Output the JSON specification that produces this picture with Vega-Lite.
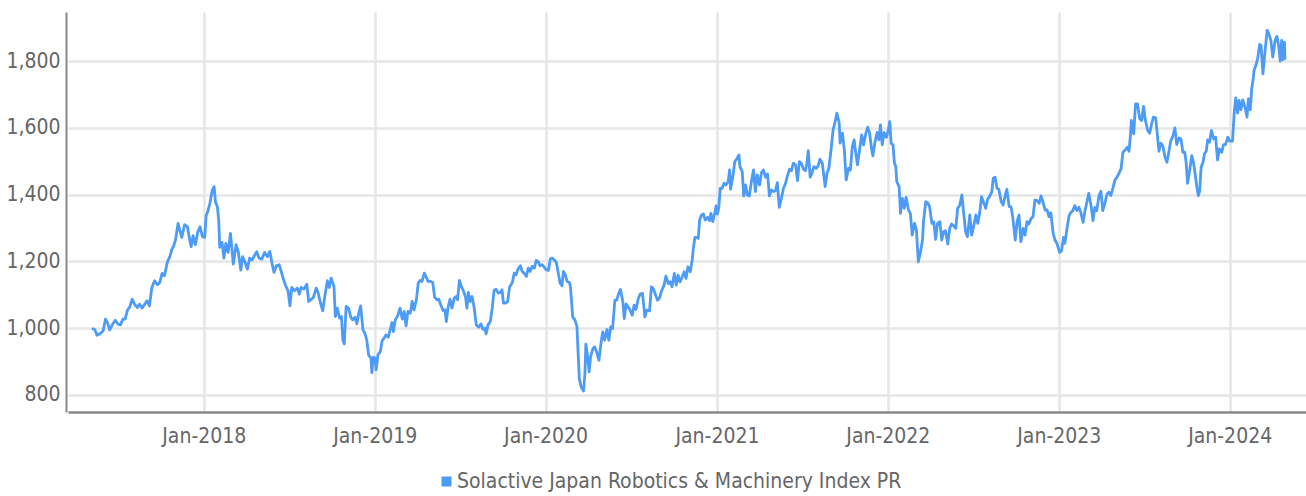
{
"$schema": "https://vega.github.io/schema/vega-lite/v6.json",
"width": 1238, "height": 400,
"autosize": {"type": "none"},
"padding": {"left": 68, "top": 12, "right": 0, "bottom": 84},
"background": "white",
"config": {"view": {"stroke": null}, "font": "DejaVu Sans Condensed"},
"data": {"values": [
{"d":"2017-05-07","v":999},{"d":"2017-05-13","v":996},{"d":"2017-05-18","v":979},{"d":"2017-05-26","v":985},{"d":"2017-05-31","v":992},{"d":"2017-06-05","v":1027},{"d":"2017-06-10","v":1014},{"d":"2017-06-14","v":995},{"d":"2017-06-21","v":1014},{"d":"2017-06-26","v":1024},{"d":"2017-07-02","v":1012},{"d":"2017-07-07","v":1010},{"d":"2017-07-12","v":1027},{"d":"2017-07-17","v":1027},{"d":"2017-07-22","v":1054},{"d":"2017-07-27","v":1064},{"d":"2017-08-01","v":1087},{"d":"2017-08-06","v":1072},{"d":"2017-08-12","v":1062},{"d":"2017-08-17","v":1072},{"d":"2017-08-22","v":1060},{"d":"2017-08-28","v":1072},{"d":"2017-09-02","v":1082},{"d":"2017-09-07","v":1067},{"d":"2017-09-12","v":1122},{"d":"2017-09-18","v":1142},{"d":"2017-09-24","v":1130},{"d":"2017-09-29","v":1137},{"d":"2017-10-04","v":1164},{"d":"2017-10-09","v":1157},{"d":"2017-10-15","v":1197},{"d":"2017-10-21","v":1217},{"d":"2017-10-25","v":1237},{"d":"2017-10-29","v":1247},{"d":"2017-11-02","v":1267},{"d":"2017-11-07","v":1314},{"d":"2017-11-11","v":1292},{"d":"2017-11-15","v":1272},{"d":"2017-11-21","v":1310},{"d":"2017-11-27","v":1304},{"d":"2017-12-01","v":1272},{"d":"2017-12-05","v":1244},{"d":"2017-12-09","v":1277},{"d":"2017-12-14","v":1250},{"d":"2017-12-19","v":1287},{"d":"2017-12-24","v":1304},{"d":"2017-12-29","v":1274},
{"d":"2018-01-03","v":1272},{"d":"2018-01-06","v":1337},{"d":"2018-01-10","v":1352},{"d":"2018-01-14","v":1374},{"d":"2018-01-19","v":1412},{"d":"2018-01-23","v":1424},{"d":"2018-01-26","v":1377},{"d":"2018-01-30","v":1364},{"d":"2018-02-02","v":1322},{"d":"2018-02-04","v":1242},{"d":"2018-02-09","v":1257},{"d":"2018-02-13","v":1210},{"d":"2018-02-17","v":1254},{"d":"2018-02-22","v":1227},{"d":"2018-02-27","v":1284},{"d":"2018-03-05","v":1192},{"d":"2018-03-11","v":1250},{"d":"2018-03-16","v":1227},{"d":"2018-03-21","v":1174},{"d":"2018-03-25","v":1214},{"d":"2018-03-29","v":1202},{"d":"2018-04-04","v":1177},{"d":"2018-04-09","v":1210},{"d":"2018-04-14","v":1204},{"d":"2018-04-19","v":1217},{"d":"2018-04-24","v":1229},{"d":"2018-04-29","v":1210},{"d":"2018-05-05","v":1207},{"d":"2018-05-11","v":1227},{"d":"2018-05-17","v":1214},{"d":"2018-05-22","v":1230},{"d":"2018-05-27","v":1192},{"d":"2018-05-31","v":1167},{"d":"2018-06-05","v":1187},{"d":"2018-06-11","v":1190},{"d":"2018-06-15","v":1172},{"d":"2018-06-20","v":1147},{"d":"2018-06-25","v":1127},{"d":"2018-06-30","v":1112},{"d":"2018-07-04","v":1067},{"d":"2018-07-08","v":1122},{"d":"2018-07-14","v":1112},{"d":"2018-07-20","v":1120},{"d":"2018-07-24","v":1102},{"d":"2018-07-28","v":1122},{"d":"2018-08-03","v":1117},{"d":"2018-08-09","v":1132},{"d":"2018-08-13","v":1080},{"d":"2018-08-19","v":1087},{"d":"2018-08-23","v":1092},{"d":"2018-08-29","v":1120},{"d":"2018-09-02","v":1107},{"d":"2018-09-07","v":1077},{"d":"2018-09-12","v":1052},{"d":"2018-09-17","v":1100},{"d":"2018-09-22","v":1142},{"d":"2018-09-26","v":1122},{"d":"2018-09-30","v":1150},
{"d":"2018-10-06","v":1125},{"d":"2018-10-09","v":1035},{"d":"2018-10-13","v":1060},{"d":"2018-10-18","v":1030},{"d":"2018-10-22","v":1035},{"d":"2018-10-25","v":965},{"d":"2018-10-28","v":953},{"d":"2018-11-01","v":1065},{"d":"2018-11-06","v":1060},{"d":"2018-11-11","v":1033},{"d":"2018-11-15","v":1025},{"d":"2018-11-20","v":1033},{"d":"2018-11-24","v":1013},{"d":"2018-11-28","v":1045},{"d":"2018-12-02","v":1067},{"d":"2018-12-07","v":995},{"d":"2018-12-11","v":985},{"d":"2018-12-15","v":965},{"d":"2018-12-19","v":920},{"d":"2018-12-24","v":910},{"d":"2018-12-26","v":867},{"d":"2018-12-29","v":913},
{"d":"2019-01-02","v":910},{"d":"2019-01-04","v":875},{"d":"2019-01-08","v":920},{"d":"2019-01-13","v":930},{"d":"2019-01-17","v":963},{"d":"2019-01-21","v":970},{"d":"2019-01-25","v":980},{"d":"2019-01-30","v":973},{"d":"2019-02-03","v":995},{"d":"2019-02-07","v":1017},{"d":"2019-02-10","v":990},{"d":"2019-02-14","v":1025},{"d":"2019-02-19","v":1037},{"d":"2019-02-24","v":1060},{"d":"2019-03-01","v":1027},{"d":"2019-03-05","v":1050},{"d":"2019-03-09","v":1007},{"d":"2019-03-13","v":1050},{"d":"2019-03-18","v":1045},{"d":"2019-03-22","v":1080},{"d":"2019-03-26","v":1055},{"d":"2019-03-31","v":1085},{"d":"2019-04-04","v":1135},{"d":"2019-04-08","v":1143},{"d":"2019-04-12","v":1140},{"d":"2019-04-17","v":1165},{"d":"2019-04-21","v":1153},{"d":"2019-04-25","v":1140},{"d":"2019-05-01","v":1140},{"d":"2019-05-05","v":1137},{"d":"2019-05-09","v":1093},{"d":"2019-05-14","v":1085},{"d":"2019-05-18","v":1087},{"d":"2019-05-22","v":1070},{"d":"2019-05-27","v":1053},{"d":"2019-05-31","v":1055},{"d":"2019-06-03","v":1020},{"d":"2019-06-07","v":1065},{"d":"2019-06-11","v":1087},{"d":"2019-06-15","v":1060},{"d":"2019-06-20","v":1090},{"d":"2019-06-24","v":1095},{"d":"2019-06-27","v":1085},{"d":"2019-07-01","v":1143},{"d":"2019-07-05","v":1125},{"d":"2019-07-10","v":1110},{"d":"2019-07-14","v":1093},{"d":"2019-07-17","v":1060},{"d":"2019-07-20","v":1107},{"d":"2019-07-24","v":1080},{"d":"2019-07-28","v":1095},{"d":"2019-08-01","v":1065},{"d":"2019-08-06","v":1010},{"d":"2019-08-11","v":1003},{"d":"2019-08-16","v":1013},{"d":"2019-08-20","v":997},{"d":"2019-08-24","v":1000},{"d":"2019-08-27","v":983},{"d":"2019-08-31","v":1010},{"d":"2019-09-05","v":1020},{"d":"2019-09-09","v":1060},{"d":"2019-09-13","v":1113},{"d":"2019-09-17","v":1117},{"d":"2019-09-22","v":1105},{"d":"2019-09-26","v":1107},{"d":"2019-09-30","v":1115},{"d":"2019-10-03","v":1075},{"d":"2019-10-07","v":1075},{"d":"2019-10-12","v":1080},{"d":"2019-10-16","v":1123},{"d":"2019-10-22","v":1137},{"d":"2019-10-26","v":1165},{"d":"2019-10-30","v":1160},{"d":"2019-11-03","v":1177},{"d":"2019-11-08","v":1187},{"d":"2019-11-12","v":1170},{"d":"2019-11-16","v":1165},{"d":"2019-11-21","v":1155},{"d":"2019-11-25","v":1180},{"d":"2019-11-29","v":1170},{"d":"2019-12-03","v":1185},{"d":"2019-12-08","v":1180},{"d":"2019-12-12","v":1203},{"d":"2019-12-16","v":1200},{"d":"2019-12-20","v":1187},{"d":"2019-12-25","v":1190},{"d":"2019-12-29","v":1183},
{"d":"2020-01-02","v":1175},{"d":"2020-01-07","v":1173},{"d":"2020-01-11","v":1207},{"d":"2020-01-15","v":1210},{"d":"2020-01-19","v":1205},{"d":"2020-01-24","v":1197},{"d":"2020-01-28","v":1165},{"d":"2020-02-01","v":1135},{"d":"2020-02-05","v":1127},{"d":"2020-02-08","v":1170},{"d":"2020-02-12","v":1160},{"d":"2020-02-16","v":1140},{"d":"2020-02-21","v":1137},{"d":"2020-02-23","v":1125},{"d":"2020-02-28","v":1033},{"d":"2020-03-03","v":1027},{"d":"2020-03-08","v":1005},{"d":"2020-03-10","v":940},
{"d":"2020-03-13","v":849},{"d":"2020-03-17","v":824},{"d":"2020-03-22","v":812},{"d":"2020-03-25","v":864},{"d":"2020-03-27","v":952},{"d":"2020-03-30","v":924},{"d":"2020-04-03","v":869},{"d":"2020-04-06","v":914},{"d":"2020-04-11","v":939},{"d":"2020-04-15","v":944},{"d":"2020-04-19","v":929},{"d":"2020-04-24","v":904},{"d":"2020-04-28","v":952},{"d":"2020-05-02","v":989},{"d":"2020-05-06","v":964},{"d":"2020-05-11","v":996},{"d":"2020-05-15","v":964},{"d":"2020-05-19","v":1004},{"d":"2020-05-23","v":999},{"d":"2020-05-28","v":1084},{"d":"2020-06-01","v":1084},{"d":"2020-06-05","v":1104},{"d":"2020-06-09","v":1116},{"d":"2020-06-14","v":1079},{"d":"2020-06-17","v":1029},{"d":"2020-06-21","v":1072},{"d":"2020-06-25","v":1064},{"d":"2020-06-29","v":1056},{"d":"2020-07-04","v":1039},{"d":"2020-07-08","v":1069},{"d":"2020-07-12","v":1056},{"d":"2020-07-17","v":1089},{"d":"2020-07-21","v":1102},{"d":"2020-07-26","v":1104},{"d":"2020-07-31","v":1034},{"d":"2020-08-04","v":1054},{"d":"2020-08-10","v":1052},{"d":"2020-08-14","v":1124},{"d":"2020-08-18","v":1119},{"d":"2020-08-23","v":1099},{"d":"2020-08-27","v":1084},{"d":"2020-08-31","v":1089},{"d":"2020-09-04","v":1109},{"d":"2020-09-10","v":1129},{"d":"2020-09-14","v":1156},{"d":"2020-09-19","v":1134},{"d":"2020-09-23","v":1139},{"d":"2020-09-27","v":1124},{"d":"2020-10-02","v":1164},{"d":"2020-10-06","v":1129},{"d":"2020-10-10","v":1159},{"d":"2020-10-14","v":1139},{"d":"2020-10-19","v":1154},{"d":"2020-10-23","v":1169},{"d":"2020-10-27","v":1149},{"d":"2020-10-31","v":1184},{"d":"2020-11-05","v":1169},{"d":"2020-11-09","v":1204},{"d":"2020-11-12","v":1244},{"d":"2020-11-15","v":1272},{"d":"2020-11-19","v":1272},{"d":"2020-11-22","v":1269},{"d":"2020-11-25","v":1324},{"d":"2020-11-29","v":1339},{"d":"2020-12-03","v":1342},{"d":"2020-12-07","v":1324},{"d":"2020-12-12","v":1332},{"d":"2020-12-16","v":1322},{"d":"2020-12-19","v":1344},{"d":"2020-12-23","v":1319},{"d":"2020-12-28","v":1349},{"d":"2020-12-30","v":1366},
{"d":"2021-01-02","v":1342},{"d":"2021-01-05","v":1362},{"d":"2021-01-08","v":1419},{"d":"2021-01-12","v":1419},{"d":"2021-01-16","v":1434},{"d":"2021-01-20","v":1429},{"d":"2021-01-25","v":1439},{"d":"2021-01-28","v":1474},{"d":"2021-01-30","v":1416},{"d":"2021-02-04","v":1454},{"d":"2021-02-08","v":1499},{"d":"2021-02-12","v":1506},{"d":"2021-02-17","v":1519},{"d":"2021-02-19","v":1484},{"d":"2021-02-24","v":1469},{"d":"2021-02-27","v":1396},{"d":"2021-03-03","v":1429},{"d":"2021-03-07","v":1399},{"d":"2021-03-11","v":1396},{"d":"2021-03-16","v":1444},{"d":"2021-03-20","v":1474},{"d":"2021-03-24","v":1409},{"d":"2021-03-28","v":1459},{"d":"2021-04-02","v":1429},{"d":"2021-04-06","v":1466},{"d":"2021-04-10","v":1474},{"d":"2021-04-15","v":1452},{"d":"2021-04-19","v":1462},{"d":"2021-04-23","v":1396},{"d":"2021-04-27","v":1414},{"d":"2021-05-02","v":1409},{"d":"2021-05-06","v":1412},{"d":"2021-05-10","v":1436},{"d":"2021-05-14","v":1362},{"d":"2021-05-19","v":1392},{"d":"2021-05-23","v":1419},{"d":"2021-05-27","v":1432},{"d":"2021-05-31","v":1454},{"d":"2021-06-05","v":1476},{"d":"2021-06-09","v":1472},{"d":"2021-06-13","v":1494},{"d":"2021-06-18","v":1489},{"d":"2021-06-22","v":1442},{"d":"2021-06-26","v":1499},{"d":"2021-06-30","v":1494},{"d":"2021-07-05","v":1476},{"d":"2021-07-09","v":1472},{"d":"2021-07-12","v":1494},{"d":"2021-07-15","v":1532},{"d":"2021-07-19","v":1452},{"d":"2021-07-23","v":1464},{"d":"2021-07-27","v":1484},{"d":"2021-08-01","v":1479},{"d":"2021-08-05","v":1486},{"d":"2021-08-09","v":1506},
{"d":"2021-08-14","v":1494},{"d":"2021-08-17","v":1459},{"d":"2021-08-20","v":1424},{"d":"2021-08-24","v":1464},{"d":"2021-08-28","v":1479},{"d":"2021-09-02","v":1539},{"d":"2021-09-06","v":1594},{"d":"2021-09-10","v":1616},{"d":"2021-09-14","v":1644},{"d":"2021-09-19","v":1616},{"d":"2021-09-21","v":1554},{"d":"2021-09-26","v":1584},{"d":"2021-09-30","v":1534},{"d":"2021-10-04","v":1444},{"d":"2021-10-09","v":1479},{"d":"2021-10-13","v":1474},{"d":"2021-10-17","v":1544},{"d":"2021-10-21","v":1564},{"d":"2021-10-24","v":1529},{"d":"2021-10-28","v":1489},{"d":"2021-11-02","v":1539},{"d":"2021-11-06","v":1579},{"d":"2021-11-10","v":1549},{"d":"2021-11-15","v":1584},{"d":"2021-11-19","v":1602},{"d":"2021-11-23","v":1584},{"d":"2021-11-27","v":1539},{"d":"2021-11-30","v":1516},{"d":"2021-12-04","v":1554},{"d":"2021-12-09","v":1586},{"d":"2021-12-13","v":1564},{"d":"2021-12-16","v":1609},{"d":"2021-12-20","v":1549},{"d":"2021-12-24","v":1586},{"d":"2021-12-29","v":1572},
{"d":"2022-01-02","v":1594},{"d":"2022-01-05","v":1619},{"d":"2022-01-08","v":1554},{"d":"2022-01-12","v":1549},{"d":"2022-01-15","v":1494},{"d":"2022-01-18","v":1484},{"d":"2022-01-20","v":1439},{"d":"2022-01-25","v":1424},{"d":"2022-01-28","v":1344},{"d":"2022-02-01","v":1389},{"d":"2022-02-05","v":1359},{"d":"2022-02-09","v":1392},{"d":"2022-02-14","v":1354},{"d":"2022-02-18","v":1344},{"d":"2022-02-22","v":1279},{"d":"2022-02-27","v":1314},{"d":"2022-03-03","v":1294},{"d":"2022-03-07","v":1199},{"d":"2022-03-11","v":1224},{"d":"2022-03-16","v":1264},{"d":"2022-03-18","v":1319},{"d":"2022-03-23","v":1379},{"d":"2022-03-27","v":1376},{"d":"2022-03-31","v":1364},{"d":"2022-04-05","v":1314},{"d":"2022-04-09","v":1319},{"d":"2022-04-13","v":1266},{"d":"2022-04-17","v":1314},{"d":"2022-04-22","v":1319},{"d":"2022-04-26","v":1264},{"d":"2022-04-30","v":1289},{"d":"2022-05-04","v":1292},{"d":"2022-05-09","v":1252},{"d":"2022-05-13","v":1299},{"d":"2022-05-17","v":1312},{"d":"2022-05-22","v":1306},{"d":"2022-05-26","v":1299},{"d":"2022-05-30","v":1359},{"d":"2022-06-03","v":1366},{"d":"2022-06-08","v":1399},{"d":"2022-06-12","v":1344},{"d":"2022-06-16","v":1289},{"d":"2022-06-20","v":1274},{"d":"2022-06-25","v":1339},{"d":"2022-06-29","v":1279},{"d":"2022-07-03","v":1304},{"d":"2022-07-08","v":1339},{"d":"2022-07-12","v":1314},{"d":"2022-07-16","v":1344},{"d":"2022-07-20","v":1394},{"d":"2022-07-25","v":1374},{"d":"2022-07-29","v":1359},{"d":"2022-08-02","v":1386},{"d":"2022-08-06","v":1394},{"d":"2022-08-11","v":1409},{"d":"2022-08-14","v":1449},{"d":"2022-08-18","v":1452},{"d":"2022-08-22","v":1419},{"d":"2022-08-26","v":1416},{"d":"2022-08-31","v":1379},{"d":"2022-09-04","v":1369},{"d":"2022-09-08","v":1394},{"d":"2022-09-12","v":1416},{"d":"2022-09-17","v":1364},{"d":"2022-09-21","v":1364},{"d":"2022-09-25","v":1329},{"d":"2022-09-30","v":1264},{"d":"2022-10-04","v":1319},{"d":"2022-10-08","v":1339},{"d":"2022-10-12","v":1259},{"d":"2022-10-17","v":1299},{"d":"2022-10-21","v":1279},{"d":"2022-10-25","v":1319},{"d":"2022-10-29","v":1312},{"d":"2022-11-03","v":1329},{"d":"2022-11-07","v":1334},{"d":"2022-11-11","v":1384},{"d":"2022-11-16","v":1382},{"d":"2022-11-20","v":1374},{"d":"2022-11-24","v":1396},{"d":"2022-11-28","v":1379},{"d":"2022-12-03","v":1354},{"d":"2022-12-07","v":1354},{"d":"2022-12-11","v":1334},{"d":"2022-12-15","v":1346},{"d":"2022-12-20","v":1284},{"d":"2022-12-24","v":1264},{"d":"2022-12-28","v":1254},
{"d":"2023-01-03","v":1227},{"d":"2023-01-07","v":1232},{"d":"2023-01-11","v":1272},{"d":"2023-01-14","v":1254},{"d":"2023-01-19","v":1302},{"d":"2023-01-23","v":1337},{"d":"2023-01-27","v":1347},{"d":"2023-01-31","v":1352},{"d":"2023-02-04","v":1367},{"d":"2023-02-09","v":1352},{"d":"2023-02-13","v":1362},{"d":"2023-02-17","v":1347},{"d":"2023-02-22","v":1317},{"d":"2023-02-26","v":1352},{"d":"2023-03-02","v":1377},{"d":"2023-03-06","v":1404},{"d":"2023-03-11","v":1367},{"d":"2023-03-15","v":1322},{"d":"2023-03-19","v":1362},{"d":"2023-03-23","v":1352},{"d":"2023-03-28","v":1397},{"d":"2023-04-01","v":1410},{"d":"2023-04-05","v":1352},{"d":"2023-04-10","v":1377},{"d":"2023-04-14","v":1402},{"d":"2023-04-18","v":1407},{"d":"2023-04-22","v":1397},{"d":"2023-04-27","v":1422},{"d":"2023-05-01","v":1444},{"d":"2023-05-05","v":1452},{"d":"2023-05-09","v":1462},{"d":"2023-05-14","v":1477},{"d":"2023-05-18","v":1527},{"d":"2023-05-22","v":1532},{"d":"2023-05-27","v":1542},{"d":"2023-05-31","v":1530},{"d":"2023-06-03","v":1577},{"d":"2023-06-05","v":1622},{"d":"2023-06-10","v":1582},{"d":"2023-06-14","v":1672},{"d":"2023-06-18","v":1672},{"d":"2023-06-23","v":1627},{"d":"2023-06-27","v":1622},{"d":"2023-07-01","v":1664},{"d":"2023-07-05","v":1622},{"d":"2023-07-10","v":1592},{"d":"2023-07-14","v":1584},{"d":"2023-07-18","v":1610},{"d":"2023-07-22","v":1632},{"d":"2023-07-27","v":1630},{"d":"2023-07-31","v":1572},{"d":"2023-08-03","v":1530},{"d":"2023-08-07","v":1554},{"d":"2023-08-11","v":1547},{"d":"2023-08-16","v":1512},{"d":"2023-08-20","v":1497},{"d":"2023-08-24","v":1527},{"d":"2023-08-28","v":1560},{"d":"2023-09-02","v":1577},{"d":"2023-09-06","v":1600},{"d":"2023-09-10","v":1550},{"d":"2023-09-15","v":1570},{"d":"2023-09-19","v":1567},{"d":"2023-09-23","v":1527},{"d":"2023-09-27","v":1527},{"d":"2023-09-30","v":1497},{"d":"2023-10-03","v":1434},{"d":"2023-10-07","v":1467},{"d":"2023-10-12","v":1517},{"d":"2023-10-16","v":1494},{"d":"2023-10-20","v":1454},{"d":"2023-10-23","v":1422},{"d":"2023-10-26","v":1397},{"d":"2023-10-29","v":1412},{"d":"2023-11-01","v":1482},{"d":"2023-11-05","v":1497},{"d":"2023-11-08","v":1522},{"d":"2023-11-12","v":1530},{"d":"2023-11-15","v":1564},{"d":"2023-11-19","v":1557},{"d":"2023-11-23","v":1592},{"d":"2023-11-28","v":1567},{"d":"2023-12-02","v":1572},{"d":"2023-12-06","v":1504},{"d":"2023-12-10","v":1537},{"d":"2023-12-15","v":1527},{"d":"2023-12-19","v":1550},{"d":"2023-12-23","v":1550},{"d":"2023-12-28","v":1572},
{"d":"2024-01-01","v":1560},{"d":"2024-01-07","v":1560},{"d":"2024-01-11","v":1652},{"d":"2024-01-14","v":1690},{"d":"2024-01-18","v":1644},{"d":"2024-01-21","v":1682},{"d":"2024-01-25","v":1654},{"d":"2024-01-29","v":1684},{"d":"2024-02-03","v":1660},{"d":"2024-02-07","v":1632},{"d":"2024-02-10","v":1687},{"d":"2024-02-14","v":1654},{"d":"2024-02-17","v":1717},{"d":"2024-02-20","v":1744},{"d":"2024-02-22","v":1772},{"d":"2024-02-27","v":1792},{"d":"2024-03-01","v":1810},{"d":"2024-03-05","v":1850},{"d":"2024-03-08","v":1847},{"d":"2024-03-12","v":1762},{"d":"2024-03-16","v":1822},{"d":"2024-03-21","v":1892},{"d":"2024-03-25","v":1880},{"d":"2024-03-29","v":1862},{"d":"2024-04-02","v":1812},{"d":"2024-04-07","v":1862},{"d":"2024-04-11","v":1874},{"d":"2024-04-15","v":1842},{"d":"2024-04-18","v":1800},{"d":"2024-04-21","v":1862},{"d":"2024-04-24","v":1804},{"d":"2024-04-27","v":1857},{"d":"2024-04-28","v":1804}
]},
"mark": {"type": "line", "strokeWidth": 2.8, "strokeJoin": "round"},
"encoding": {
  "x": {"field": "d", "type": "temporal",
    "scale": {"type": "utc", "domain": [{"year": 2017, "month": 3, "date": 17, "utc": true}, {"year": 2024, "month": 6, "date": 12, "utc": true}]},
    "axis": {"title": null, "format": "%b-%Y", "tickCount": {"interval": "year", "step": 1},
      "ticks": false, "grid": true, "gridColor": "#e6e6e6", "gridWidth": 2.5,
      "domainColor": "#888888", "domainWidth": 2.5,
      "labelFontSize": 21, "labelColor": "#666666", "labelPadding": 13, "labelFont": "DejaVu Sans Condensed"}},
  "y": {"field": "v", "type": "quantitative",
    "scale": {"domain": [749, 1947], "nice": false, "zero": false},
    "axis": {"title": null, "values": [800, 1000, 1200, 1400, 1600, 1800], "format": ",d",
      "ticks": false, "grid": true, "gridColor": "#e6e6e6", "gridWidth": 2.5,
      "domainColor": "#888888", "domainWidth": 2, "offset": 2,
      "labelFontSize": 21, "labelColor": "#666666", "labelPadding": 6, "labelFont": "DejaVu Sans Condensed"}},
  "color": {"datum": "Solactive Japan Robotics & Machinery Index PR", "type": "nominal",
    "scale": {"range": ["#4c9bf7"]},
    "legend": {"title": null, "orient": "none", "legendX": 368, "legendY": 459, "padding": 0,
      "symbolType": "square", "symbolSize": 100, "symbolFillColor": "#4c9bf7", "symbolStrokeWidth": 0,
      "labelFontSize": 21, "labelLimit": 0, "labelColor": "#666666", "labelOffset": 0, "labelFont": "DejaVu Sans Condensed",
      "encode": {"symbols": {"update": {"fill": {"value": "#4c9bf7"}, "stroke": {"value": "transparent"}}}}}}
}
}
